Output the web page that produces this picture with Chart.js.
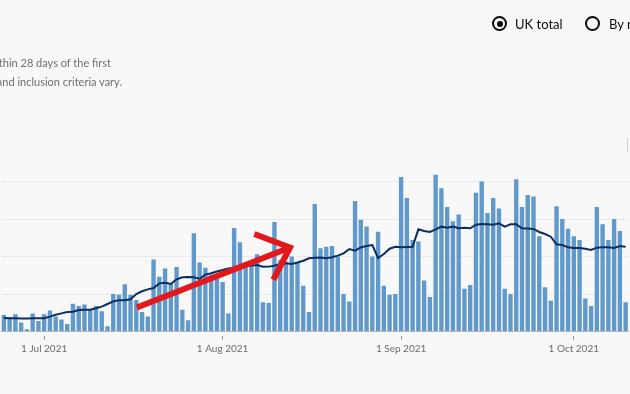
<!DOCTYPE html>
<html><head><meta charset="utf-8">
<script src="https://cdn.jsdelivr.net/npm/chart.js@4"></script>
<style>
html,body{margin:0;padding:0;background:#f8f8f8;width:630px;height:394px;overflow:hidden;}
body{position:relative;font-family:"Lato","Liberation Sans",sans-serif;}
#c{position:absolute;left:0;top:0;}
.note{position:absolute;white-space:nowrap;font-size:11px;color:#6f6f6f;line-height:12px;}
.rlabel{position:absolute;font-size:13px;color:#0b0c0c;line-height:16px;white-space:nowrap;}
.circ{position:absolute;width:15px;height:15px;border:2px solid #0b0c0c;border-radius:50%;box-sizing:border-box;}
.dot{position:absolute;left:2.5px;top:2.5px;width:6px;height:6px;border-radius:50%;background:#0b0c0c;}
#edge{position:absolute;left:627px;top:138px;width:1px;height:14px;background:#d0d0d0;}
</style>
</head><body>
<canvas id="c" width="630" height="394"></canvas>
<div class="note" style="top:57px;right:519px">within 28 days of the first</div>
<div class="note" style="top:76px;right:508px">methodologies and inclusion criteria vary.</div>
<div class="circ" style="left:492px;top:16px"><div class="dot"></div></div>
<div class="rlabel" style="left:515px;top:16px">UK total</div>
<div class="circ" style="left:585px;top:16px"></div>
<div class="rlabel" style="left:609px;top:16px">By nation</div>
<div id="edge"></div>
<script>
const dates = [
'2021-06-24','2021-06-25','2021-06-26','2021-06-27','2021-06-28','2021-06-29','2021-06-30',
'2021-07-01','2021-07-02','2021-07-03','2021-07-04','2021-07-05','2021-07-06','2021-07-07','2021-07-08','2021-07-09','2021-07-10',
'2021-07-11','2021-07-12','2021-07-13','2021-07-14','2021-07-15','2021-07-16','2021-07-17','2021-07-18','2021-07-19','2021-07-20',
'2021-07-21','2021-07-22','2021-07-23','2021-07-24','2021-07-25','2021-07-26','2021-07-27','2021-07-28','2021-07-29','2021-07-30','2021-07-31',
'2021-08-01','2021-08-02','2021-08-03','2021-08-04','2021-08-05','2021-08-06','2021-08-07','2021-08-08','2021-08-09','2021-08-10',
'2021-08-11','2021-08-12','2021-08-13','2021-08-14','2021-08-15','2021-08-16','2021-08-17','2021-08-18','2021-08-19','2021-08-20',
'2021-08-21','2021-08-22','2021-08-23','2021-08-24','2021-08-25','2021-08-26','2021-08-27','2021-08-28','2021-08-29','2021-08-30','2021-08-31',
'2021-09-01','2021-09-02','2021-09-03','2021-09-04','2021-09-05','2021-09-06','2021-09-07','2021-09-08','2021-09-09','2021-09-10',
'2021-09-11','2021-09-12','2021-09-13','2021-09-14','2021-09-15','2021-09-16','2021-09-17','2021-09-18','2021-09-19','2021-09-20',
'2021-09-21','2021-09-22','2021-09-23','2021-09-24','2021-09-25','2021-09-26','2021-09-27','2021-09-28','2021-09-29','2021-09-30',
'2021-10-01','2021-10-02','2021-10-03','2021-10-04','2021-10-05','2021-10-06','2021-10-07','2021-10-08','2021-10-09','2021-10-10'
];
const dailyDeaths = [
22,19,23,12,3,24,14,
23,28,20,16,10,37,34,36,30,34,
27,7,50,49,63,49,42,26,20,96,
73,84,64,86,29,15,131,92,85,76,72,
66,24,138,119,87,86,103,39,38,146,
95,93,100,92,61,26,170,111,113,114,
100,50,40,174,149,140,100,133,61,49,50,
206,178,122,120,68,46,209,191,166,147,
156,57,62,185,200,158,178,164,57,50,
203,166,182,180,127,59,41,167,150,137,
127,122,44,34,166,143,122,150,134,39
];
const rollingAverage = [
18,17.6,17.6,17.4,17.4,17.6,17.6,
17.6,19.8,22.4,24.2,26,26.4,28.7,29.1,29.1,30.9,
33.1,36.7,40.2,41.6,41.6,42.9,50,53.6,56.2,58,
64.2,65.1,63.3,69.6,72.2,72.7,72.2,70.4,75.8,77.6,80,
82,84,85,86,87,87.5,88.7,86.4,86.5,87.8,
90,90.9,90,92,94.4,97.6,98.4,98.6,97.8,99,
101.1,104.2,110,107.8,112.2,114,115.3,98,103.3,110.4,113,
112.2,112.7,113,136.2,134,132.7,136.2,139.8,138.4,139.8,
137.6,138.4,137.6,142.4,143.3,143,142.4,144.2,139.8,142.9,
142.9,137.6,137.2,136.7,132.7,130,126.4,116.2,115.3,112.2,
111.3,111.3,110.4,108.7,111.8,112.2,112.2,111.3,114,113
];
const tickDates = ['2021-07-01','2021-08-01','2021-09-01','2021-10-01'];
const tickLabels = ['1 Jul 2021','1 Aug 2021','1 Sep 2021','1 Oct 2021'];
// annotation arrow, in data coordinates: [category index, value]
const arrowShaft = [[23.1, 32], [49.7, 112]];
const arrowBarbs = [[43.5, 130], [46.8, 69]];

const arrowPlugin = {
  id: 'arrow',
  afterDatasetsDraw(chart) {
    const xs = chart.scales.x, ys = chart.scales.y, ctx = chart.ctx;
    const P = p => [xs.getPixelForValue(p[0]), ys.getPixelForValue(p[1])];
    const a = P(arrowShaft[0]), tip = P(arrowShaft[1]);
    ctx.save();
    ctx.strokeStyle = '#e2191c';
    ctx.lineWidth = 6;
    ctx.lineCap = 'butt';
    ctx.lineJoin = 'miter';
    ctx.beginPath(); ctx.moveTo(a[0], a[1]); ctx.lineTo(tip[0], tip[1]); ctx.stroke();
    const b1 = P(arrowBarbs[0]), b2 = P(arrowBarbs[1]);
    ctx.beginPath(); ctx.moveTo(b1[0], b1[1]); ctx.lineTo(tip[0], tip[1]); ctx.lineTo(b2[0], b2[1]); ctx.stroke();
    ctx.restore();
  }
};

new Chart(document.getElementById('c'), {
  type: 'bar',
  data: {
    labels: dates,
    datasets: [
      { type: 'line', data: rollingAverage, borderColor: '#0c2d62', borderWidth: 2, pointRadius: 0, tension: 0, order: 0 },
      { type: 'bar', data: dailyDeaths, backgroundColor: '#6199cb', barPercentage: 0.76, categoryPercentage: 1, order: 1 }
    ]
  },
  options: {
    responsive: false,
    animation: false,
    devicePixelRatio: 1,
    layout: { padding: { top: 144, left: 1, right: 1.5, bottom: 0 } },
    plugins: { legend: { display: false }, tooltip: { enabled: false } },
    scales: {
      x: {
        offset: true,
        afterFit: a => { a.height = 62.5; },
        border: { display: true, color: '#b8b8b8', width: 1 },
        grid: {
          offset: false,
          drawOnChartArea: false,
          tickLength: 8,
          tickBorderDash: [0, 4, 4],
          tickColor: c => tickDates.includes(dates[c.index]) ? '#8c8c8c' : 'rgba(0,0,0,0)'
        },
        ticks: {
          autoSkip: false, maxRotation: 0, padding: 3,
          color: '#6b6b6b',
          font: { family: 'Lato, "Liberation Sans", sans-serif', size: 10 },
          callback: (v, i) => { const j = tickDates.indexOf(dates[i]); return j >= 0 ? tickLabels[j] : ''; }
        }
      },
      y: {
        min: 0, max: 250,
        afterFit: a => { a.width = 0; },
        border: { display: false },
        ticks: { display: false, stepSize: 50 },
        grid: {
          drawTicks: false,
          color: c => (c.tick.value > 0 && c.tick.value < 250) ? '#e9e9e9' : 'rgba(0,0,0,0)'
        }
      }
    }
  },
  plugins: [arrowPlugin]
});
</script>
</body></html>
